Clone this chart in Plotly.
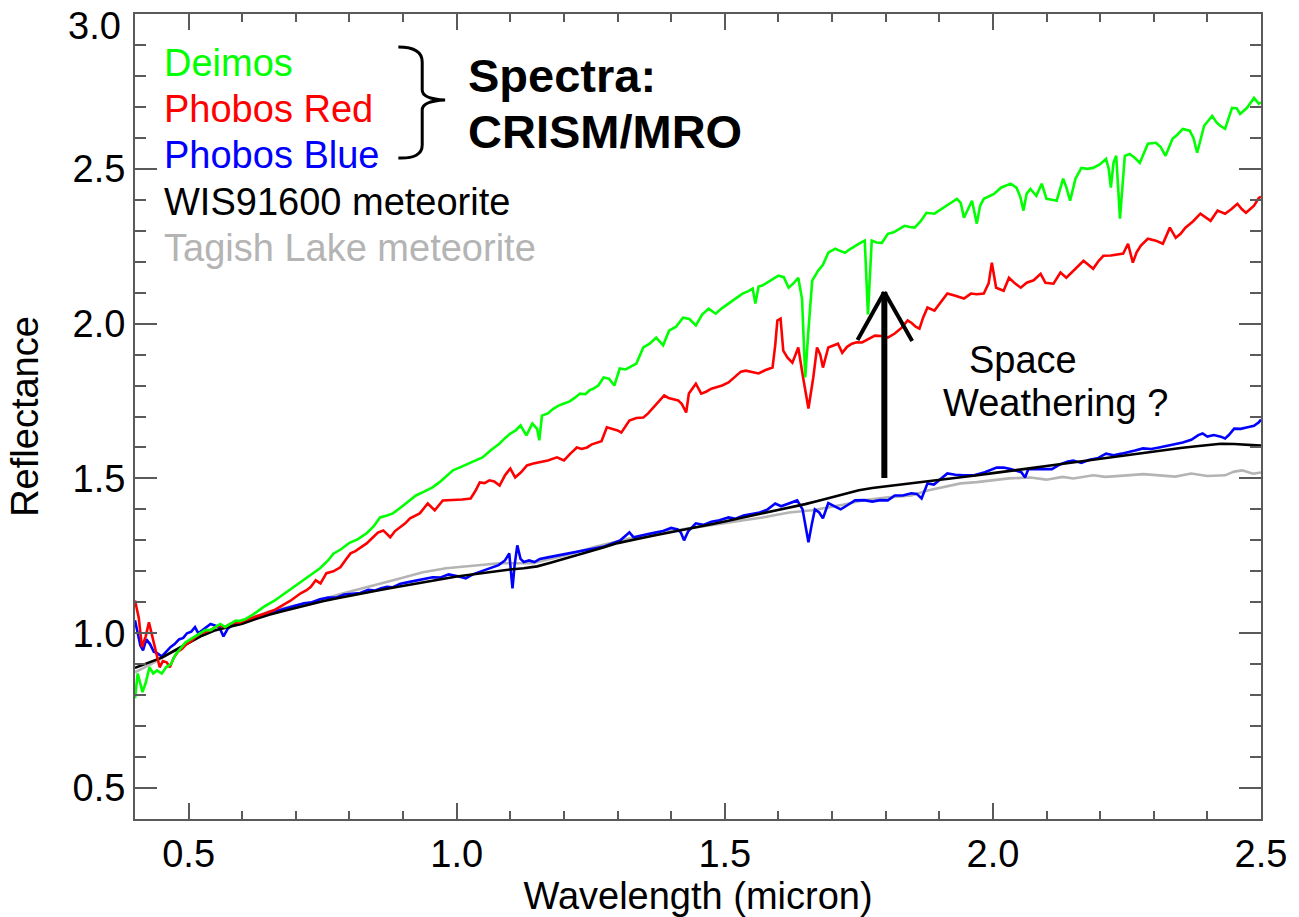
import plotly.graph_objects as go

# ---- Deimos (CRISM/MRO) ----
deimos_wl = [0.400, 0.405, 0.414, 0.420, 0.427, 0.434, 0.441, 0.450, 0.458, 0.467, 0.475, 0.484,
             0.494, 0.503, 0.512, 0.522, 0.531, 0.541, 0.550, 0.559, 0.568, 0.577, 0.587, 0.596,
             0.605, 0.620, 0.640, 0.660, 0.680, 0.700, 0.715, 0.730, 0.745, 0.760, 0.770, 0.785,
             0.800, 0.815, 0.832, 0.845, 0.857, 0.870, 0.881, 0.895, 0.910, 0.924, 0.940, 0.955,
             0.968, 0.980, 0.993, 1.005, 1.018, 1.030, 1.048, 1.063, 1.080, 1.090, 1.100, 1.110,
             1.119, 1.130, 1.141, 1.150, 1.154, 1.159, 1.170, 1.180, 1.190, 1.200, 1.210, 1.220,
             1.230, 1.240, 1.248, 1.255, 1.264, 1.274, 1.284, 1.294, 1.304, 1.315, 1.325, 1.335,
             1.348, 1.360, 1.372, 1.385, 1.396, 1.409, 1.422, 1.434, 1.446, 1.458, 1.470, 1.483,
             1.495, 1.507, 1.520, 1.533, 1.544, 1.552, 1.557, 1.563, 1.570, 1.585, 1.600, 1.610,
             1.619, 1.628, 1.637, 1.644, 1.650, 1.656, 1.663, 1.674, 1.683, 1.693, 1.706, 1.715,
             1.724, 1.733, 1.743, 1.752, 1.761, 1.767, 1.774, 1.783, 1.793, 1.804, 1.815, 1.825,
             1.835, 1.845, 1.854, 1.865, 1.876, 1.891, 1.905, 1.919, 1.933, 1.940, 1.946, 1.953,
             1.961, 1.970, 1.976, 1.983, 2.002, 2.015, 2.033, 2.044, 2.051, 2.057, 2.063, 2.070,
             2.081, 2.091, 2.100, 2.110, 2.119, 2.131, 2.137, 2.144, 2.154, 2.165, 2.176, 2.187,
             2.200, 2.211, 2.216, 2.220, 2.225, 2.230, 2.237, 2.246, 2.255, 2.265, 2.274, 2.289,
             2.304, 2.313, 2.322, 2.335, 2.344, 2.354, 2.367, 2.374, 2.381, 2.394, 2.409, 2.417,
             2.424, 2.433, 2.446, 2.455, 2.461, 2.474, 2.480, 2.487, 2.496, 2.500]
deimos_refl = [0.79, 0.87, 0.81, 0.84, 0.89, 0.87, 0.88, 0.87, 0.89, 0.90, 0.93, 0.95,
               0.97, 0.98, 0.99, 1.00, 1.01, 1.01, 1.02, 1.03, 1.02, 1.03, 1.04, 1.04,
               1.045, 1.06, 1.085, 1.105, 1.13, 1.155, 1.172, 1.19, 1.21, 1.235, 1.257, 1.272,
               1.292, 1.303, 1.323, 1.345, 1.374, 1.380, 1.387, 1.405, 1.425, 1.445, 1.458, 1.471,
               1.488, 1.505, 1.526, 1.535, 1.545, 1.555, 1.568, 1.59, 1.613, 1.63, 1.645, 1.655,
               1.671, 1.639, 1.677, 1.66, 1.623, 1.703, 1.71, 1.725, 1.735, 1.742, 1.748, 1.76,
               1.774, 1.772, 1.785, 1.79, 1.80, 1.826, 1.822, 1.80, 1.855, 1.852, 1.862, 1.871,
               1.923, 1.935, 1.955, 1.93, 1.977, 1.99, 2.019, 2.015, 1.994, 2.03, 2.048, 2.032,
               2.05, 2.065, 2.08, 2.097, 2.105, 2.113, 2.065, 2.12, 2.123, 2.14, 2.155, 2.15,
               2.116, 2.13, 2.148, 2.08, 1.826, 1.98, 2.139, 2.171, 2.19, 2.229, 2.242, 2.235,
               2.229, 2.24, 2.252, 2.26, 2.268, 2.03, 2.268, 2.262, 2.261, 2.29, 2.295, 2.305,
               2.316, 2.312, 2.31, 2.33, 2.358, 2.355, 2.37, 2.387, 2.403, 2.39, 2.342, 2.37,
               2.397, 2.323, 2.38, 2.403, 2.419, 2.439, 2.452, 2.439, 2.41, 2.365, 2.42, 2.435,
               2.413, 2.452, 2.403, 2.40, 2.397, 2.468, 2.44, 2.397, 2.468, 2.503, 2.50, 2.503,
               2.515, 2.532, 2.50, 2.439, 2.52, 2.542, 2.339, 2.542, 2.548, 2.535, 2.519, 2.581,
               2.584, 2.57, 2.542, 2.597, 2.61, 2.629, 2.623, 2.60, 2.552, 2.639, 2.671, 2.65,
               2.639, 2.629, 2.697, 2.695, 2.677, 2.697, 2.71, 2.729, 2.71, 2.715]

# ---- Phobos red unit (CRISM/MRO) ----
phobos_red_wl = [0.400, 0.407, 0.413, 0.420, 0.426, 0.434, 0.440, 0.446, 0.452, 0.459, 0.465, 0.472,
                 0.480, 0.488, 0.496, 0.505, 0.514, 0.523, 0.532, 0.541, 0.550, 0.559, 0.568, 0.577,
                 0.587, 0.596, 0.605, 0.620, 0.640, 0.659, 0.675, 0.690, 0.709, 0.720, 0.728, 0.737,
                 0.746, 0.757, 0.770, 0.783, 0.792, 0.802, 0.811, 0.820, 0.832, 0.844, 0.853, 0.863,
                 0.876, 0.885, 0.894, 0.904, 0.913, 0.922, 0.931, 0.946, 0.959, 0.974, 0.990, 1.010,
                 1.026, 1.035, 1.043, 1.052, 1.061, 1.070, 1.080, 1.090, 1.100, 1.109, 1.120, 1.131,
                 1.143, 1.156, 1.170, 1.187, 1.200, 1.212, 1.224, 1.233, 1.243, 1.252, 1.261, 1.270,
                 1.280, 1.290, 1.300, 1.307, 1.315, 1.322, 1.335, 1.348, 1.357, 1.367, 1.377, 1.387,
                 1.395, 1.405, 1.413, 1.420, 1.428, 1.433, 1.440, 1.446, 1.456, 1.465, 1.475, 1.483,
                 1.495, 1.507, 1.520, 1.530, 1.539, 1.550, 1.563, 1.576, 1.589, 1.594, 1.598, 1.604,
                 1.609, 1.617, 1.626, 1.632, 1.637, 1.646, 1.656, 1.665, 1.672, 1.678, 1.683, 1.693,
                 1.702, 1.711, 1.719, 1.728, 1.737, 1.746, 1.756, 1.768, 1.780, 1.792, 1.804, 1.817,
                 1.830, 1.841, 1.848, 1.856, 1.863, 1.870, 1.878, 1.891, 1.903, 1.915, 1.930, 1.946,
                 1.959, 1.970, 1.983, 1.992, 1.998, 2.006, 2.020, 2.030, 2.041, 2.052, 2.063, 2.076,
                 2.089, 2.098, 2.113, 2.126, 2.137, 2.153, 2.169, 2.178, 2.187, 2.196, 2.206, 2.220,
                 2.232, 2.243, 2.252, 2.261, 2.268, 2.276, 2.289, 2.304, 2.317, 2.330, 2.341, 2.350,
                 2.359, 2.373, 2.387, 2.406, 2.419, 2.433, 2.445, 2.456, 2.464, 2.472, 2.487, 2.496,
                 2.500]
phobos_red_refl = [1.106, 1.05, 0.955, 0.99, 1.035, 0.98, 0.93, 0.89, 0.91, 0.906, 0.89, 0.92,
                   0.94, 0.95, 0.965, 0.975, 0.99, 1.00, 1.005, 1.01, 1.02, 1.025, 1.02, 1.03,
                   1.035, 1.035, 1.042, 1.05, 1.062, 1.074, 1.09, 1.105, 1.129, 1.139, 1.15, 1.171,
                   1.161, 1.194, 1.20, 1.213, 1.235, 1.258, 1.265, 1.277, 1.29, 1.31, 1.325, 1.332,
                   1.31, 1.33, 1.342, 1.355, 1.371, 1.38, 1.387, 1.419, 1.397, 1.429, 1.43, 1.432,
                   1.435, 1.46, 1.487, 1.485, 1.494, 1.49, 1.477, 1.51, 1.532, 1.503, 1.52, 1.542,
                   1.548, 1.552, 1.558, 1.568, 1.558, 1.58, 1.60, 1.595, 1.60, 1.61, 1.616, 1.62,
                   1.665, 1.66, 1.655, 1.648, 1.67, 1.687, 1.695, 1.697, 1.71, 1.729, 1.75, 1.768,
                   1.76, 1.755, 1.752, 1.74, 1.713, 1.774, 1.79, 1.806, 1.774, 1.78, 1.79, 1.794,
                   1.80, 1.81, 1.83, 1.845, 1.848, 1.845, 1.839, 1.85, 1.858, 1.93, 2.01, 2.016,
                   1.913, 1.89, 1.874, 1.90, 1.923, 1.826, 1.726, 1.826, 1.923, 1.90, 1.858, 1.923,
                   1.93, 1.935, 1.906, 1.925, 1.935, 1.94, 1.939, 1.95, 1.961, 1.96, 1.955, 1.968,
                   1.987, 2.01, 2.003, 1.99, 1.984, 2.02, 2.052, 2.042, 2.07, 2.097, 2.09, 2.081,
                   2.097, 2.095, 2.097, 2.13, 2.197, 2.116, 2.106, 2.148, 2.13, 2.116, 2.132, 2.14,
                   2.161, 2.132, 2.129, 2.165, 2.148, 2.175, 2.203, 2.19, 2.177, 2.20, 2.219, 2.22,
                   2.222, 2.226, 2.258, 2.197, 2.23, 2.252, 2.274, 2.268, 2.258, 2.31, 2.277, 2.29,
                   2.31, 2.33, 2.355, 2.332, 2.365, 2.355, 2.37, 2.387, 2.37, 2.358, 2.381, 2.406,
                   2.41]

# ---- Phobos blue unit (CRISM/MRO) ----
phobos_blue_wl = [0.400, 0.405, 0.410, 0.415, 0.421, 0.428, 0.435, 0.442, 0.450, 0.458, 0.466, 0.474,
                  0.482, 0.490, 0.497, 0.505, 0.512, 0.518, 0.525, 0.533, 0.541, 0.549, 0.557, 0.565,
                  0.573, 0.581, 0.590, 0.600, 0.620, 0.640, 0.660, 0.680, 0.700, 0.715, 0.730, 0.745,
                  0.760, 0.775, 0.790, 0.807, 0.820, 0.835, 0.848, 0.859, 0.870, 0.880, 0.895, 0.910,
                  0.925, 0.940, 0.955, 0.970, 0.985, 1.000, 1.017, 1.030, 1.045, 1.055, 1.067, 1.078,
                  1.090, 1.098, 1.104, 1.108, 1.113, 1.119, 1.125, 1.135, 1.145, 1.155, 1.170, 1.185,
                  1.200, 1.215, 1.230, 1.245, 1.260, 1.275, 1.290, 1.305, 1.315, 1.322, 1.330, 1.340,
                  1.355, 1.370, 1.385, 1.400, 1.412, 1.418, 1.424, 1.432, 1.446, 1.460, 1.475, 1.490,
                  1.507, 1.520, 1.535, 1.550, 1.565, 1.580, 1.594, 1.605, 1.620, 1.635, 1.645, 1.650,
                  1.656, 1.662, 1.668, 1.676, 1.683, 1.693, 1.705, 1.716, 1.730, 1.743, 1.760, 1.775,
                  1.790, 1.804, 1.817, 1.832, 1.848, 1.858, 1.867, 1.878, 1.890, 1.903, 1.915, 1.930,
                  1.945, 1.965, 1.985, 2.007, 2.020, 2.033, 2.045, 2.053, 2.060, 2.066, 2.080, 2.095,
                  2.110, 2.125, 2.140, 2.150, 2.165, 2.180, 2.195, 2.211, 2.225, 2.240, 2.255, 2.265,
                  2.280, 2.295, 2.310, 2.325, 2.340, 2.354, 2.370, 2.383, 2.391, 2.400, 2.412, 2.425,
                  2.433, 2.440, 2.450, 2.462, 2.475, 2.487, 2.496, 2.500]
phobos_blue_refl = [1.042, 1.00, 0.96, 0.945, 0.98, 0.965, 0.94, 0.935, 0.925, 0.94, 0.955, 0.965,
                    0.98, 0.985, 1.00, 1.005, 1.02, 1.00, 1.01, 1.02, 1.03, 1.025, 1.02, 0.99,
                    1.015, 1.025, 1.03, 1.035, 1.048, 1.06, 1.07, 1.08, 1.09, 1.097, 1.10, 1.11,
                    1.115, 1.115, 1.125, 1.129, 1.13, 1.14, 1.138, 1.145, 1.15, 1.148, 1.16, 1.165,
                    1.17, 1.175, 1.181, 1.18, 1.19, 1.185, 1.177, 1.19, 1.20, 1.205, 1.213, 1.22,
                    1.235, 1.258, 1.145, 1.22, 1.284, 1.24, 1.23, 1.235, 1.23, 1.24, 1.245, 1.25,
                    1.255, 1.26, 1.265, 1.27, 1.275, 1.28, 1.29, 1.30, 1.315, 1.326, 1.31, 1.315,
                    1.32, 1.325, 1.33, 1.34, 1.335, 1.325, 1.30, 1.33, 1.355, 1.35, 1.36, 1.365,
                    1.374, 1.37, 1.38, 1.385, 1.39, 1.40, 1.419, 1.41, 1.42, 1.429, 1.40, 1.35,
                    1.294, 1.35, 1.40, 1.39, 1.371, 1.42, 1.41, 1.40, 1.415, 1.429, 1.43, 1.425,
                    1.43, 1.429, 1.445, 1.445, 1.452, 1.45, 1.435, 1.484, 1.48, 1.50, 1.516, 1.512,
                    1.51, 1.51, 1.52, 1.535, 1.535, 1.53, 1.525, 1.52, 1.503, 1.53, 1.53, 1.53,
                    1.53, 1.545, 1.555, 1.558, 1.55, 1.56, 1.565, 1.58, 1.575, 1.58, 1.585, 1.59,
                    1.597, 1.595, 1.60, 1.605, 1.61, 1.616, 1.625, 1.64, 1.645, 1.635, 1.64, 1.635,
                    1.629, 1.64, 1.661, 1.66, 1.665, 1.67, 1.681, 1.69]

# ---- WIS91600 meteorite (lab) ----
wis_wl = [0.400, 0.425, 0.450, 0.475, 0.500, 0.525, 0.550, 0.575, 0.600, 0.625, 0.650, 0.675,
          0.700, 0.725, 0.750, 0.775, 0.800, 0.825, 0.850, 0.875, 0.900, 0.925, 0.950, 0.975,
          1.000, 1.025, 1.050, 1.075, 1.100, 1.125, 1.150, 1.175, 1.200, 1.225, 1.250, 1.275,
          1.300, 1.325, 1.350, 1.375, 1.400, 1.425, 1.450, 1.475, 1.500, 1.525, 1.550, 1.575,
          1.600, 1.625, 1.650, 1.675, 1.700, 1.725, 1.750, 1.775, 1.800, 1.825, 1.850, 1.875,
          1.900, 1.925, 1.950, 1.975, 2.000, 2.025, 2.050, 2.075, 2.100, 2.125, 2.150, 2.175,
          2.200, 2.225, 2.250, 2.275, 2.300, 2.325, 2.350, 2.375, 2.400, 2.425, 2.450, 2.475,
          2.500]
wis_refl = [0.888, 0.905, 0.921, 0.945, 0.968, 0.992, 1.010, 1.020, 1.031, 1.046, 1.060, 1.071,
            1.082, 1.093, 1.103, 1.112, 1.121, 1.130, 1.137, 1.145, 1.153, 1.161, 1.169, 1.176,
            1.183, 1.189, 1.195, 1.201, 1.206, 1.210, 1.216, 1.228, 1.240, 1.252, 1.265, 1.278,
            1.291, 1.301, 1.309, 1.318, 1.326, 1.334, 1.343, 1.352, 1.361, 1.370, 1.380, 1.389,
            1.398, 1.407, 1.417, 1.428, 1.440, 1.452, 1.462, 1.469, 1.474, 1.479, 1.484, 1.489,
            1.494, 1.499, 1.505, 1.511, 1.517, 1.522, 1.528, 1.534, 1.540, 1.546, 1.551, 1.556,
            1.562, 1.569, 1.575, 1.581, 1.587, 1.593, 1.598, 1.603, 1.608, 1.612, 1.611, 1.608,
            1.606]

# ---- Tagish Lake meteorite (lab) ----
tagish_wl = [0.400, 0.430, 0.460, 0.490, 0.520, 0.560, 0.600, 0.650, 0.700, 0.733, 0.780, 0.832,
             0.894, 0.937, 0.980, 1.030, 1.080, 1.141, 1.200, 1.260, 1.322, 1.380, 1.446, 1.510,
             1.570, 1.620, 1.663, 1.720, 1.756, 1.800, 1.848, 1.878, 1.910, 1.940, 1.970, 2.000,
             2.030, 2.070, 2.100, 2.130, 2.150, 2.187, 2.210, 2.250, 2.280, 2.311, 2.340, 2.370,
             2.400, 2.433, 2.450, 2.465, 2.485, 2.500]
tagish_refl = [0.874, 0.90, 0.93, 0.96, 0.99, 1.015, 1.04, 1.07, 1.09, 1.10, 1.125, 1.148,
               1.177, 1.197, 1.21, 1.218, 1.226, 1.226, 1.25, 1.28, 1.306, 1.325, 1.342, 1.36,
               1.374, 1.39, 1.397, 1.415, 1.429, 1.438, 1.445, 1.461, 1.472, 1.484, 1.488, 1.494,
               1.50, 1.503, 1.496, 1.505, 1.50, 1.51, 1.505, 1.51, 1.514, 1.51, 1.506, 1.516,
               1.508, 1.51, 1.522, 1.526, 1.515, 1.519]

# axis tick positions (the top "3.0" label sits just inside the frame, drawn separately)
x_ticks = [0.5, 1.0, 1.5, 2.0, 2.5]
x_tick_text = ["0.5", "1.0", "1.5", "2.0", "2.5"]
y_ticks = [0.5, 1.0, 1.5, 2.0, 2.5, 3.0]
y_tick_text = ["0.5", "1.0", "1.5", "2.0", "2.5", ""]
y_top_label = "3.0"

FONT = "Liberation Sans, Arial, Helvetica, sans-serif"
TXT = 38

# plot-area geometry in pixels, used to place the decorations
L, R, T, B = 135, 1268, 14, 819
XR = (0.4, 2.5)
YR = (0.4, 3.0)


def px(xp, yp):
    """pixel position -> data coordinates"""
    x = XR[0] + (xp - L) / (R - L) * (XR[1] - XR[0])
    y = YR[1] - (yp - T) / (B - T) * (YR[1] - YR[0])
    return x, y


fig = go.Figure()

series = [
    (tagish_wl, tagish_refl, "#B4B4B4", "Tagish Lake meteorite"),
    (phobos_blue_wl, phobos_blue_refl, "#0000FF", "Phobos Blue"),
    (wis_wl, wis_refl, "#000000", "WIS91600 meteorite"),
    (phobos_red_wl, phobos_red_refl, "#FF0000", "Phobos Red"),
    (deimos_wl, deimos_refl, "#00FF00", "Deimos"),
]
for wl, rf, col, name in series:
    fig.add_trace(go.Scatter(x=wl, y=rf, mode="lines", name=name,
                             line=dict(color=col, width=2.6), showlegend=False))

# legend text, coloured like the curves
legend_rows = [("Deimos", "#00FF00", 63), ("Phobos Red", "#FF0000", 109),
               ("Phobos Blue", "#0000FF", 155), ("WIS91600 meteorite", "#000000", 202),
               ("Tagish Lake meteorite", "#B4B4B4", 248)]
annotations = []
for txt, col, yp in legend_rows:
    ax_, ay_ = px(162, yp)
    annotations.append(dict(x=ax_, y=ay_, xref="x", yref="y", text=txt, showarrow=False,
                            xanchor="left", yanchor="middle",
                            font=dict(family=FONT, size=TXT, color=col)))

for txt, yp in [("Spectra:", 75), ("CRISM/MRO", 131)]:
    ax_, ay_ = px(468, yp)
    annotations.append(dict(x=ax_, y=ay_, xref="x", yref="y", text="<b>" + txt + "</b>",
                            showarrow=False, xanchor="left", yanchor="middle",
                            font=dict(family=FONT, size=47, color="#000000")))

for txt, xp, yp in [("Space", 972, 360), ("Weathering ?", 946, 403)]:
    ax_, ay_ = px(xp, yp)
    annotations.append(dict(x=ax_, y=ay_, xref="x", yref="y", text=txt, showarrow=False,
                            xanchor="left", yanchor="middle",
                            font=dict(family=FONT, size=TXT, color="#000000")))

# top y tick label
annotations.append(dict(x=0, y=1 - (26 - T) / (B - T), xref="paper", yref="paper",
                        xshift=-12, text=y_top_label, showarrow=False,
                        xanchor="right", yanchor="middle",
                        font=dict(family=FONT, size=TXT, color="#000000")))

# curly brace grouping the CRISM spectra
pts = [(400, 47), (424, 47), (424, 62), (424, 90), (424, 99), (447, 100), (424, 101),
       (424, 110), (424, 145), (424, 159), (400, 158)]
d = [px(*p) for p in pts]
brace = (f"M {d[0][0]},{d[0][1]} Q {d[1][0]},{d[1][1]} {d[2][0]},{d[2][1]} "
         f"L {d[3][0]},{d[3][1]} Q {d[4][0]},{d[4][1]} {d[5][0]},{d[5][1]} "
         f"Q {d[6][0]},{d[6][1]} {d[7][0]},{d[7][1]} L {d[8][0]},{d[8][1]} "
         f"Q {d[9][0]},{d[9][1]} {d[10][0]},{d[10][1]}")
shapes = [dict(type="path", path=brace, xref="x", yref="y",
               line=dict(color="#000000", width=3))]

# "space weathering" arrow: shaft plus open chevron head
sx0, sy0 = px(889, 478)
sx1, sy1 = px(889, 292)
shapes.append(dict(type="line", x0=sx0, y0=sy0, x1=sx1, y1=sy1, xref="x", yref="y",
                   line=dict(color="#000000", width=6)))
for ex, ey in [(862, 340), (917, 341)]:
    cx, cy = px(ex, ey)
    shapes.append(dict(type="line", x0=cx, y0=cy, x1=sx1, y1=sy1, xref="x", yref="y",
                       line=dict(color="#000000", width=4)))

axis_common = dict(showline=True, linecolor="#5A5A5A", linewidth=2, mirror="allticks",
                   ticks="inside", tickcolor="#5A5A5A", tickwidth=2,
                   showgrid=False, zeroline=False,
                   tickfont=dict(family=FONT, size=TXT, color="#000000"))

fig.update_layout(
    width=1299, height=917,
    margin=dict(l=L, r=1299 - R, t=T, b=917 - B),
    paper_bgcolor="#FFFFFF", plot_bgcolor="#FFFFFF",
    xaxis=dict(range=list(XR), tickvals=x_ticks, ticktext=x_tick_text, ticklen=16,
               minor=dict(dtick=0.1, tick0=0.4, ticks="inside", ticklen=8,
                          tickcolor="#5A5A5A", tickwidth=2),
               title=dict(text="Wavelength (micron)", standoff=2,
                          font=dict(family=FONT, size=TXT, color="#000000")),
               **axis_common),
    yaxis=dict(range=list(YR), tickvals=y_ticks, ticktext=y_tick_text, ticklen=22,
               minor=dict(dtick=0.1, tick0=0.4, ticks="inside", ticklen=11,
                          tickcolor="#5A5A5A", tickwidth=2),
               title=dict(text="Reflectance", standoff=22,
                          font=dict(family=FONT, size=TXT, color="#000000")),
               **axis_common),
    annotations=annotations,
    shapes=shapes,
)

fig.write_html("out.html")
